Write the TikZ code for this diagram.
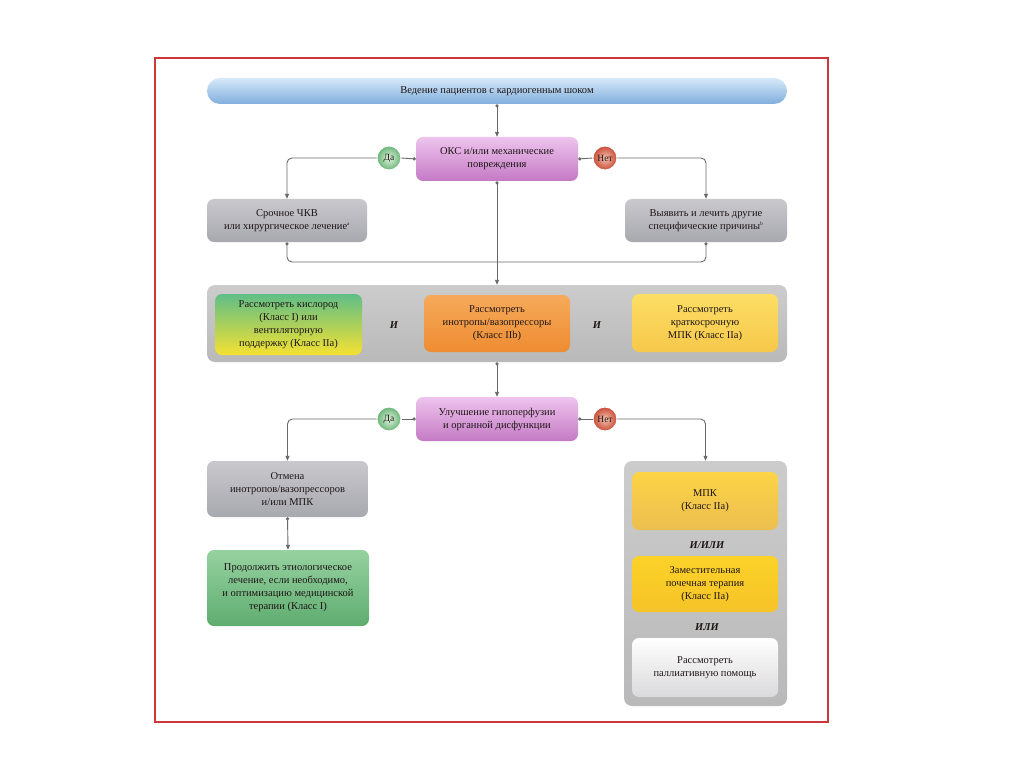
\documentclass[tikz,border=0pt]{standalone}
\usepackage{fontspec}
\setmainfont{Liberation Serif}
\usetikzlibrary{arrows.meta}
\definecolor{linec}{RGB}{105,105,105}
\definecolor{framec}{RGB}{205,55,55}
\definecolor{txt}{RGB}{30,22,22}
\definecolor{gtop}{RGB}{200,200,205}
\definecolor{gbot}{RGB}{168,168,175}
\definecolor{ptop}{RGB}{238,196,238}
\definecolor{pbot}{RGB}{196,122,196}
\begin{document}
\begin{tikzpicture}[x=1pt,y=-1pt,
  every node/.style={font=\fontsize{10.5}{13}\selectfont, text=txt},
  boxbase/.style={rounded corners=7pt, align=center, inner sep=2pt},
  graybox/.style={boxbase, top color=gtop, bottom color=gbot},
  purplebox/.style={boxbase, top color=ptop, bottom color=pbot},
  container/.style={rounded corners=8pt, top color=gray!40, bottom color=gray!55},
  yesc/.style={circle, minimum size=24pt, inner sep=0pt, draw=white, line width=1pt, inner color={rgb,255:red,225;green,245;blue,225}, outer color={rgb,255:red,105;green,180;blue,118}, font=\fontsize{9.5}{11}\selectfont},
  noc/.style={circle, minimum size=24pt, inner sep=0pt, draw=white, line width=1pt, inner color={rgb,255:red,245;green,195;blue,175}, outer color={rgb,255:red,200;green,75;blue,55}, font=\fontsize{9.5}{11}\selectfont},
  conn/.style={draw=linec, line width=0.9pt, rounded corners=5pt},
  arr/.style={conn, -{Triangle[length=5pt,width=4pt]}},
  dotarr/.style={conn, {Circle[length=3.2pt]}-{Triangle[length=5pt,width=4pt]}},
  dotline/.style={conn, {Circle[length=3.2pt]}-},
  conj/.style={font=\fontsize{10.5}{12}\selectfont\bfseries\itshape}
]
\useasboundingbox (0,0) rectangle (1024,767);
\fill[white] (0,0) rectangle (1024,767);
\draw[framec, line width=1.1pt] (155,58) rectangle (828,722);

% title
\node[rounded corners=13pt, top color={rgb,255:red,215;green,233;blue,249}, bottom color={rgb,255:red,128;green,174;blue,220}, minimum width=580pt, minimum height=26pt] (title) at (497,91) {Ведение пациентов с кардиогенным шоком};

% first decision
\node[purplebox, minimum width=162pt, minimum height=44pt] (oks) at (497,159) {ОКС и/или механические\\повреждения};
\node[yesc] (da1) at (389,158) {Да};
\node[noc] (net1) at (605,158) {Нет};
\node[graybox, minimum width=160pt, minimum height=43pt] (chkv) at (287,220.5) {Срочное ЧКВ\\или хирургическое лечение\textsuperscript{\tiny a}};
\node[graybox, minimum width=162pt, minimum height=43pt] (other) at (706,220.5) {Выявить и лечить другие\\специфические причины\textsuperscript{\tiny b}};
\coordinate (j1) at (497,262);

% middle container
\node[container, minimum width=580pt, minimum height=77pt] (big) at (497,323.5) {};
\node[boxbase, top color={rgb,255:red,95;green,190;blue,135}, middle color={rgb,255:red,130;green,198;blue,115}, bottom color={rgb,255:red,245;green,225;blue,50}, minimum width=147pt, minimum height=61pt] (oxy) at (288.5,324.5) {Рассмотреть кислород\\(Класс I) или\\вентиляторную\\поддержку (Класс IIa)};
\node[conj] (and1) at (394,325) {И};
\node[boxbase, top color={rgb,255:red,246;green,170;blue,90}, bottom color={rgb,255:red,238;green,140;blue,50}, minimum width=146pt, minimum height=57pt] (ino) at (497,323.5) {Рассмотреть\\инотропы/вазопрессоры\\(Класс IIb)};
\node[conj] (and2) at (597,325) {И};
\node[boxbase, top color={rgb,255:red,252;green,222;blue,100}, bottom color={rgb,255:red,246;green,200;blue,75}, minimum width=146pt, minimum height=58pt] (mpk1) at (705,323) {Рассмотреть\\краткосрочную\\МПК (Класс IIa)};

% second decision
\node[purplebox, minimum width=162pt, minimum height=44pt] (imp) at (497,419) {Улучшение гипоперфузии\\и органной дисфункции};
\node[yesc] (da2) at (389,419) {Да};
\node[noc] (net2) at (605,419) {Нет};
\node[graybox, minimum width=161pt, minimum height=56pt] (stop) at (287.5,489) {Отмена\\инотропов/вазопрессоров\\и/или МПК};
\node[boxbase, top color={rgb,255:red,150;green,210;blue,160}, bottom color={rgb,255:red,95;green,172;blue,112}, minimum width=162pt, minimum height=76pt] (cont) at (288,588) {Продолжить этиологическое\\лечение, если необходимо,\\и оптимизацию медицинской\\терапии (Класс I)};

% right container
\node[container, minimum width=163pt, minimum height=245pt] (rbox) at (705.5,583.5) {};
\node[boxbase, top color={rgb,255:red,252;green,212;blue,70}, bottom color={rgb,255:red,236;green,190;blue,80}, minimum width=146pt, minimum height=58pt] (mpk2) at (705,501) {МПК\\(Класс IIa)};
\node[conj] (andor) at (707,545) {И/ИЛИ};
\node[boxbase, top color={rgb,255:red,252;green,210;blue,40}, bottom color={rgb,255:red,245;green,195;blue,40}, minimum width=146pt, minimum height=56pt] (rrt) at (705,584) {Заместительная\\почечная терапия\\(Класс IIa)};
\node[conj] (or) at (707,627) {ИЛИ};
\node[boxbase, top color=white, bottom color={rgb,255:red,218;green,218;blue,220}, minimum width=146pt, minimum height=59pt] (pal) at (705,667.5) {Рассмотреть\\паллиативную помощь};

% connectors
\draw[dotarr] (title.south) -- (oks.north);
\draw[dotline] (oks.west) -- (da1.east);
\draw[dotline] (oks.east) -- (net1.west);
\draw[arr] (da1.west) -| (chkv.north);
\draw[arr] (net1.east) -| (other.north);
\draw[dotline] (chkv.south) |- (j1);
\draw[dotline] (other.south) |- (j1);
\draw[dotarr] (oks.south) -- (big.north);
\draw[dotarr] (big.south) -- (imp.north);
\draw[dotline] (imp.west) -- (da2.east);
\draw[dotline] (imp.east) -- (net2.west);
\draw[arr] (da2.west) -| (stop.north);
\draw[arr] (net2.east) -| (rbox.north);
\draw[dotarr] (stop.south) -- (cont.north);
\end{tikzpicture}
\end{document}
